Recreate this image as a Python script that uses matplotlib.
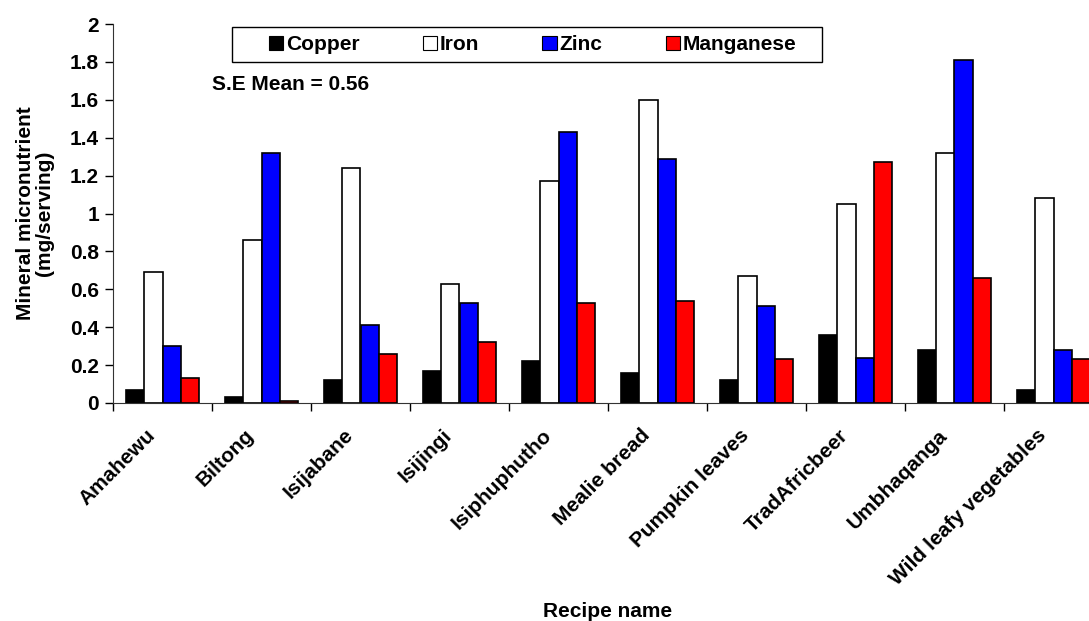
import matplotlib
matplotlib.use("Agg")
import matplotlib.pyplot as plt
import matplotlib.transforms as mtransforms
import numpy as np
from matplotlib.patches import Patch, Rectangle

plt.rcParams['font.family'] = ['Liberation Sans', 'DejaVu Sans']
plt.rcParams['font.weight'] = 'bold'

recipes = ["Amahewu", "Biltong", "Isijabane", "Isijingi", "Isiphuphutho",
           "Mealie bread", "Pumpkin leaves", "TradAfricbeer", "Umbhaqanga",
           "Wild leafy vegetables"]
copper = [0.07, 0.03, 0.12, 0.17, 0.22, 0.16, 0.12, 0.36, 0.28, 0.07]
iron = [0.69, 0.86, 1.24, 0.63, 1.17, 1.60, 0.67, 1.05, 1.32, 1.08]
zinc = [0.30, 1.32, 0.41, 0.53, 1.43, 1.29, 0.51, 0.24, 1.81, 0.28]
manganese = [0.13, 0.01, 0.26, 0.32, 0.53, 0.54, 0.23, 1.27, 0.66, 0.23]
series_names = ["Copper", "Iron", "Zinc", "Manganese"]
series_colors = ["#000000", "#FFFFFF", "#0000FF", "#FF0000"]
yticks = [0, 0.2, 0.4, 0.6, 0.8, 1, 1.2, 1.4, 1.6, 1.8, 2]
ytick_labels = ["0", "0.2", "0.4", "0.6", "0.8", "1", "1.2", "1.4", "1.6", "1.8", "2"]

FS = 15
W, H = 1089, 621
fig = plt.figure(figsize=(W / 100, H / 100), dpi=100)
left, right, top, bottom = 113, 1103, 24, 403
ax = fig.add_axes([left / W, 1 - bottom / H, (right - left) / W, (bottom - top) / H])

x = np.arange(len(recipes))
bw = 0.182
data = [copper, iron, zinc, manganese]
for i, (vals, col) in enumerate(zip(data, series_colors)):
    ax.bar(x + (i - 1.5) * bw, vals, width=bw, color=col, edgecolor='black',
           linewidth=1.2, zorder=2)

ax.set_xlim(-0.5, len(recipes) - 0.5)
ax.set_ylim(0, 2)
ax.set_yticks(yticks)
ax.set_yticklabels(ytick_labels, fontsize=FS, fontweight='bold')
ax.set_xticks(x)
ax.set_xticklabels(recipes, rotation=45, ha='right', va='top', rotation_mode='anchor',
                   fontsize=FS, fontweight='bold')
ax.tick_params(axis='x', length=0, pad=12)
shift = mtransforms.ScaledTranslation(-17 / 100, -6 / 100, fig.dpi_scale_trans)
for lbl in ax.get_xticklabels():
    lbl.set_transform(lbl.get_transform() + shift)
ax.set_xticks(np.arange(len(recipes) + 1) - 0.5, minor=True)
ax.tick_params(axis='x', which='minor', length=6, width=1, direction='out')
ax.tick_params(axis='y', length=6, width=1, direction='out', pad=4)
ax.spines['top'].set_visible(False)
ax.spines['right'].set_visible(False)
ax.spines['left'].set_color('#333333')
ax.spines['bottom'].set_color('#333333')

ax.set_ylabel("Mineral micronutrient\n(mg/serving)", fontsize=FS, fontweight='bold',
              linespacing=1.0)
ax.yaxis.set_label_coords(-0.060, 0.5)
fig.text(608 / W, 1 - 617 / H, "Recipe name", ha='center', va='baseline',
         fontsize=FS, fontweight='bold')

# legend frame
fig.add_artist(Rectangle((232 / W, 1 - 62 / H), (822 - 232) / W, 35 / H,
                         transform=fig.transFigure, facecolor='white',
                         edgecolor='black', linewidth=1.0, zorder=3))
handles = [Patch(facecolor=c, edgecolor='black', linewidth=0.8) for c in series_colors]
leg = fig.legend(handles, series_names, ncol=4, loc='center left',
                 bbox_to_anchor=(269 / W, 1 - 45 / H),
                 frameon=False, fontsize=FS,
                 handlelength=0.68, handleheight=0.68, handletextpad=0.12,
                 columnspacing=3.05, borderpad=0, borderaxespad=0)
leg.set_zorder(4)
for t in leg.get_texts():
    t.set_fontweight('bold')

fig.text(212 / W, 1 - 84 / H, "S.E Mean = 0.56", ha='left', va='center',
         fontsize=FS, fontweight='bold')

fig.savefig("out.png", dpi=100)
